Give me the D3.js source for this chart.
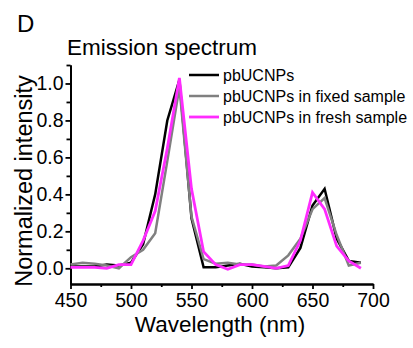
<!DOCTYPE html>
<html>
<head>
<meta charset="utf-8">
<script src="https://cdn.jsdelivr.net/npm/d3@7"></script>
<style>
  body { margin: 0; background: #fff; }
  text { font-family: "Liberation Sans", Arial, sans-serif; fill: #000; }
</style>
</head>
<body>
<script>
const width = 413
const height = 348

// wavelength (nm) of every measured point
const wavelengths = [450, 460, 470, 480, 490, 500, 510, 520, 530, 540, 550, 560, 570,
                     580, 590, 600, 610, 620, 630, 640, 650, 660, 670, 680, 690]

const pbUCNPs = [0.01, 0.01, 0.01, 0.02, 0.015, 0.03, 0.13, 0.40, 0.80, 1.02, 0.27, 0.005, 0.005,
                 0.015, 0.025, 0.01, 0.005, 0.0, 0.005, 0.11, 0.34, 0.43, 0.16, 0.04, 0.03]
const fixedSample = [0.02, 0.03, 0.025, 0.015, 0.0, 0.06, 0.10, 0.19, 0.58, 0.98, 0.28, 0.05, 0.025,
                     0.03, 0.02, 0.02, 0.01, 0.015, 0.07, 0.16, 0.32, 0.38, 0.18, 0.015, 0.03]
const freshSample = [0.005, 0.005, 0.005, 0.0, 0.02, 0.02, 0.15, 0.31, 0.65, 1.03, 0.43, 0.09, 0.02,
                     -0.005, 0.02, 0.02, 0.01, 0.0, 0.015, 0.15, 0.41, 0.32, 0.12, 0.04, 0.0]

const seriesNames = ['pbUCNPs', 'pbUCNPs in fixed sample', 'pbUCNPs in fresh sample']
const seriesColors = ['#000000', '#808080', '#ff2bff']

const xTicks = [450, 500, 550, 600, 650, 700]
const xMinor = [475, 525, 575, 625, 675]
const yTicks = [0.0, 0.2, 0.4, 0.6, 0.8, 1.0]
const yMinor = [0.1, 0.3, 0.5, 0.7, 0.9, 1.1]

const x = d3.scaleLinear().domain([450, 700]).range([70.5, 373])
const y = d3.scaleLinear().domain([-0.085, 1.1]).range([284, 65])

const svg = d3.select('body').append('svg')
    .attr('width', width)
    .attr('height', height)

// panel letter and title
svg.append('text').attr('x', 17).attr('y', 32)
    .style('font-size', '24px').text('D')
svg.append('text').attr('x', 67).attr('y', 55)
    .style('font-size', '22.5px').text('Emission spectrum')

// axes
const xAxis = svg.append('g').attr('transform', 'translate(0,284)')
    .call(d3.axisBottom(x).tickValues(xTicks).tickFormat(d3.format('d')).tickSize(5).tickSizeOuter(0))
svg.append('g').attr('transform', 'translate(0,284)')
    .call(d3.axisBottom(x).tickValues(xMinor).tickFormat('').tickSize(3).tickSizeOuter(0))

const yAxis = svg.append('g').attr('transform', 'translate(70.5,0)')
    .call(d3.axisLeft(y).tickValues(yTicks).tickFormat(d3.format('.1f')).tickSize(5).tickSizeOuter(0))
svg.append('g').attr('transform', 'translate(70.5,0)')
    .call(d3.axisLeft(y).tickValues(yMinor).tickFormat('').tickSize(4).tickSizeOuter(0))

svg.selectAll('.domain').attr('stroke', '#000').attr('stroke-width', 2)
svg.selectAll('.tick line').attr('stroke', '#000').attr('stroke-width', 1.8)
xAxis.selectAll('text').style('font-size', '19.5px').attr('y', 9).attr('dy', '0.71em')
yAxis.selectAll('text').style('font-size', '19.5px').attr('x', -7)

// axis titles
svg.append('text').attr('x', 220).attr('y', 332)
    .attr('text-anchor', 'middle').style('font-size', '22.5px')
    .text('Wavelength (nm)')
svg.append('text')
    .attr('transform', 'translate(32,181) rotate(-90)')
    .attr('text-anchor', 'middle').style('font-size', '23.5px')
    .text('Normalized intensity')

// spectra
const line = d3.line()
    .x((d, i) => x(wavelengths[i]))
    .y(d => y(d))

const allSeries = [pbUCNPs, fixedSample, freshSample]
svg.selectAll('path.spec')
    .data(allSeries)
    .join('path')
    .attr('class', 'spec')
    .attr('d', line)
    .attr('fill', 'none')
    .attr('stroke', (d, i) => seriesColors[i])
    .attr('stroke-width', (d, i) => i == 2 ? 2.8 : 2.5)
    .attr('stroke-linejoin', 'miter')

// legend
const legend = svg.append('g')
seriesNames.forEach((name, i) => {
    const ly = 75 + i * 21
    legend.append('line')
        .attr('x1', 189).attr('x2', 219)
        .attr('y1', ly).attr('y2', ly)
        .attr('stroke', seriesColors[i])
        .attr('stroke-width', i == 2 ? 2.8 : 2.5)
    legend.append('text')
        .attr('x', 223).attr('y', ly)
        .attr('dy', '0.35em')
        .style('font-size', '16px')
        .text(name)
})
</script>
</body>
</html>
